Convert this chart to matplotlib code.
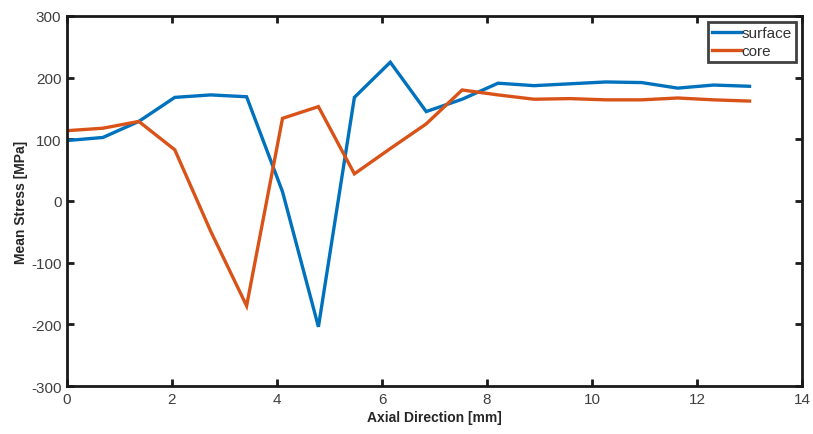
import numpy as np
import matplotlib
matplotlib.use("Agg")
import matplotlib.pyplot as plt

plt.rcParams['font.family'] = ['Liberation Sans', 'DejaVu Sans']
plt.rcParams['axes.unicode_minus'] = False

# Axial positions [mm]
axial = [0.0, 0.684, 1.368, 2.053, 2.737, 3.421, 4.105, 4.789, 5.474, 6.158,
         6.842, 7.526, 8.211, 8.895, 9.579, 10.263, 10.947, 11.632, 12.316, 13.0]

# Mean stress [MPa]
surface = [98, 103, 129, 168, 172, 169, 15, -204, 168, 225,
           145, 165, 191, 187, 190, 193, 192, 183, 188, 186]
core = [114, 118, 129, 83, -49, -170, 134, 153, 44, 85,
        125, 180, 172, 165, 166, 164, 164, 167, 164, 162]

x_ticks = [0, 2, 4, 6, 8, 10, 12, 14]
y_ticks = [-300, -200, -100, 0, 100, 200, 300]

blue = '#0072BD'
orange = '#D95319'

fig = plt.figure(figsize=(8.13, 4.35), dpi=100)
ax = fig.add_axes([0.0824, 0.1103, 0.9041, 0.8507])

ax.plot(axial, surface, color=blue, lw=2.4, label='surface', solid_joinstyle='miter')
ax.plot(axial, core, color=orange, lw=2.4, label='core', solid_joinstyle='miter')

ax.set_xlim(0, 14)
ax.set_ylim(-300, 300)
ax.set_xticks(x_ticks)
ax.set_yticks(y_ticks)

for s in ax.spines.values():
    s.set_linewidth(2.0)
    s.set_color('#1a1a1a')

ax.tick_params(direction='in', length=5, width=2.0, colors='#1a1a1a',
               top=True, right=True, labelsize=11, labelcolor='#404040', pad=4)

ax.set_xlabel('Axial Direction [mm]', fontsize=10, fontweight='bold', color='#262626', labelpad=3)
ax.set_ylabel('Mean Stress [MPa]', fontsize=10, fontweight='bold', color='#262626', labelpad=2)

leg = ax.legend(loc='upper right', fontsize=11, frameon=True, fancybox=False,
                handlelength=1.9, handletextpad=0.05, borderpad=0.25,
                labelspacing=0.3, borderaxespad=0.4)
leg.get_frame().set_edgecolor('#111111')
leg.get_frame().set_linewidth(2.0)
for t in leg.get_texts():
    t.set_color('#333333')

fig.savefig('out.png', dpi=100)
